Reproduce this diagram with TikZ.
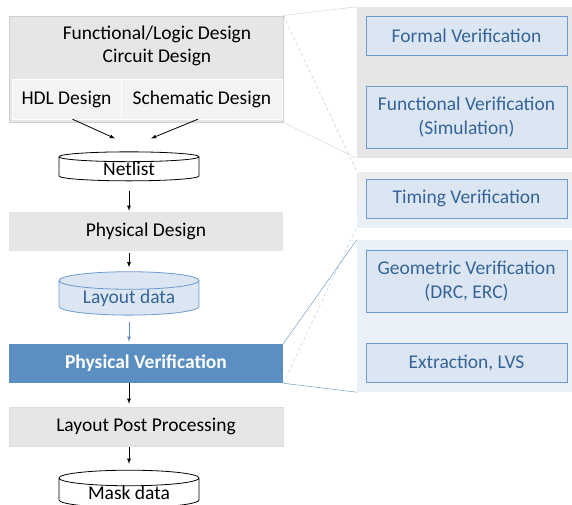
\documentclass[tikz,border=0pt]{standalone}
\usepackage{fontspec}
\setmainfont{Carlito}
\usetikzlibrary{positioning,shapes.geometric}
\definecolor{boxgray}{RGB}{230,230,230}
\definecolor{cellgray}{RGB}{242,243,243}
\definecolor{linegray}{RGB}{208,208,208}
\definecolor{pvblue}{RGB}{91,143,194}
\definecolor{lightblue}{RGB}{220,230,242}
\definecolor{paleblue}{RGB}{233,240,248}
\definecolor{edgeblue}{RGB}{108,155,208}
\definecolor{textblue}{RGB}{52,100,152}
\tikzset{
  stepbox/.style={rectangle, fill=boxgray, draw=linegray!70, minimum width=274pt, minimum height=39pt, inner sep=0pt},
  cellbox/.style={rectangle, fill=cellgray, draw=white, minimum height=40pt, inner sep=0pt},
  database/.style={cylinder, shape border rotate=90, aspect=0.19, draw, line width=0.8pt, minimum width=140pt, minimum height=29pt, inner sep=0pt},
  checkbox/.style={rectangle, fill=lightblue, draw=edgeblue, line width=0.8pt, text=textblue, minimum width=201pt, align=center, inner sep=0pt},
  panel/.style={rectangle, inner sep=0pt, minimum width=215pt},
}
\begin{document}
\begin{tikzpicture}[x=1pt, y=-1pt, >=latex, font=\fontsize{19.5}{23.5}\selectfont]
        \useasboundingbox (0,0) rectangle (572,504);
        % Right panels
        \node[panel, fill=boxgray, minimum height=151pt] (formalpanel) at (464.5,82.5) {};
        \node[panel, top color=boxgray!70, bottom color=paleblue, minimum height=55pt] (timingpanel) at (464.5,199.5) {};
        \node[panel, fill=paleblue, minimum height=152pt] (geompanel) at (464.5,316) {};
        % Nodes
        \node[stepbox, minimum height=106pt, draw=linegray, line width=1pt] (logic) at (146,69) {};
        \node[align=center] (logictext) at (157,46) {Functional/Logic Design\\Circuit Design};
        \node[cellbox, minimum width=109pt] (hdl) at (66.5,99) {HDL Design};
        \node[cellbox, minimum width=161pt, right=0pt of hdl] (schem) {Schematic Design};
        \node[database] (netlist) at (129,169) {Netlist};
        \node[stepbox, draw=none] (physd) at (146,231.5) {Physical Design};
        \node[database, fill=lightblue, draw=edgeblue, text=textblue] (layout) at (129,298) {Layout data};
        \node[stepbox, fill=pvblue, draw=none, text=white, font=\fontsize{19.5}{23.5}\selectfont\bfseries] (physv) at (146,363.5) {Physical Verification};
        \node[stepbox] (post) at (146,426.5) {Layout Post Processing};
        \node[database] (mask) at (129,493) {Mask data};
        % Check nodes
        \node[checkbox, minimum height=39pt] (formal) at (466.5,35.5) {Formal Verification};
        \node[checkbox, minimum height=62pt] (func) at (466.5,117) {Functional Verification\\(Simulation)};
        \node[checkbox, minimum height=39pt] (timing) at (466.5,198.5) {Timing Verification};
        \node[checkbox, minimum height=62pt] (geom) at (466.5,281) {Geometric Verification\\(DRC, ERC)};
        \node[checkbox, minimum height=39pt] (extract) at (466.5,362.5) {Extraction, LVS};
        % Arrows
        \draw[->, line width=0.8pt] ([xshift=6pt]hdl.south) -- ([xshift=-14pt,yshift=13pt]netlist.north);
        \draw[->, line width=0.8pt] ([xshift=-4pt]schem.south) -- ([xshift=22pt,yshift=13pt]netlist.north);
        \draw[->, line width=0.8pt, shorten <=10pt, shorten >=1pt] (netlist.south) -- (netlist.south |- physd.north);
        \draw[->, line width=0.8pt, shorten <=2pt, shorten >=4pt] (netlist.south |- physd.south) -- (layout.north);
        \draw[->, line width=0.8pt, pvblue, shorten <=6pt, shorten >=2pt] (layout.south) -- (layout.south |- physv.north);
        \draw[->, line width=0.8pt, shorten >=3pt] (layout.south |- physv.south) -- (layout.south |- post.north);
        \draw[->, line width=0.8pt, shorten <=1pt, shorten >=6pt] (layout.south |- post.south) -- (mask.north);
        % Zoom lines
        \draw[linegray] (logic.north east) -- (formalpanel.north west);
        \draw[linegray] (logic.south east) -- (formalpanel.south west);
        \draw[linegray!90!black, dashed] (logic.north east) -- (timingpanel.north west);
        \draw[pvblue!50, dashed] (physv.south east) -- (timingpanel.south west);
        \draw[pvblue] (physv.north east) -- (geompanel.north west);
        \draw[pvblue] (physv.south east) -- (geompanel.south west);
    \end{tikzpicture}
\end{document}
